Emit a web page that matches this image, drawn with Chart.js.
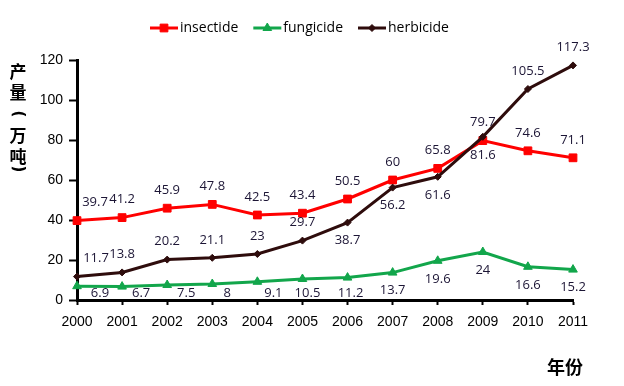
<!DOCTYPE html>
<html>
<head>
<meta charset="utf-8">
<script src="https://cdn.jsdelivr.net/npm/chart.js@4/dist/chart.umd.min.js"></script>
<style>
  html, body { margin: 0; padding: 0; background: #fff; }
  #wrap { width: 624px; height: 386px; }
</style>
</head>
<body>
<div id="wrap"><canvas id="chart" width="624" height="386"></canvas></div>
<script>
// 年份与三类农药产量（万吨）
const years = ["2000", "2001", "2002", "2003", "2004", "2005", "2006", "2007", "2008", "2009", "2010", "2011"];
const insecticide = [39.7, 41.2, 45.9, 47.8, 42.5, 43.4, 50.5, 60, 65.8, 79.7, 74.6, 71.1];
const fungicide = [6.9, 6.7, 7.5, 8, 9.1, 10.5, 11.2, 13.7, 19.6, 24, 16.6, 15.2];
const herbicide = [11.7, 13.8, 20.2, 21.1, 23, 29.7, 38.7, 56.2, 61.6, 81.6, 105.5, 117.3];
const seriesNames = ["insectide", "fungicide", "herbicide"];
const yTicks = [0, 20, 40, 60, 80, 100, 120];

// 数据标签放在点的上方还是下方，以及水平微调
const insecticideLabelPos = ["up", "up", "up", "up", "up", "up", "up", "up", "up", "up", "up", "up"];
const fungicideLabelPos = ["down", "down", "down", "down", "down", "down", "down", "down", "down", "down", "down", "down"];
const herbicideLabelPos = ["up", "up", "up", "up", "up", "up", "down", "down", "down", "down", "up", "up"];
const insecticideLabelDx = [18, 0, 0, 0, 0, 0, 0, 0, 0, 0, 0, 0];
const fungicideLabelDx = [23, 19, 19, 15, 16, 5, 3, 0, 0, 0, 0, 0];
const herbicideLabelDx = [19, 0, 0, 0, 0, 0, 0, 0, 0, 0, 0, 0];

Chart.defaults.font.family = '"Liberation Sans", Arial, sans-serif';
Chart.defaults.font.size = 14;
Chart.defaults.color = "#000";

// 图例：线段 + 标记 + 文字
const legendPlugin = {
  id: "lineLegend",
  afterDraw(chart) {
    const ctx = chart.ctx;
    let x = 150;
    const y = 28;
    ctx.save();
    ctx.font = '14px "Open Sans", sans-serif';
    ctx.textBaseline = "middle";
    ctx.textAlign = "left";
    chart.data.datasets.forEach((ds) => {
      ctx.strokeStyle = ds.borderColor;
      ctx.lineWidth = 3;
      ctx.beginPath();
      ctx.moveTo(x, y);
      ctx.lineTo(x + 28, y);
      ctx.stroke();
      ctx.fillStyle = ds.backgroundColor;
      ctx.lineWidth = 1;
      Chart.helpers.drawPoint(ctx, { pointStyle: ds.pointStyle, radius: ds.pointRadius, rotation: 0, borderWidth: 1 }, x + 14, y);
      ctx.fillStyle = "#000";
      ctx.fillText(ds.label, x + 30, y);
      x += 30 + ctx.measureText(ds.label).width + 15;
    });
    ctx.restore();
  },
};

// 数据标签
const labelPlugin = {
  id: "pointLabels",
  afterDatasetsDraw(chart) {
    const ctx = chart.ctx;
    ctx.save();
    ctx.font = '13px "Open Sans", sans-serif';
    ctx.fillStyle = "#1c1535";
    ctx.textAlign = "center";
    ctx.textBaseline = "middle";
    chart.data.datasets.forEach((ds, i) => {
      const meta = chart.getDatasetMeta(i);
      meta.data.forEach((pt, j) => {
        let y = ds.labelPos[j] === "up" ? pt.y - 18 : pt.y + 18;
        y = Math.min(y, chart.chartArea.bottom - 7);
        ctx.fillText(String(ds.data[j]), pt.x + ds.labelDx[j], y);
      });
    });
    ctx.restore();
  },
};

// 坐标轴标题（竖排中文，括号旋转 90 度）
const axisTitlePlugin = {
  id: "axisTitles",
  afterDraw(chart) {
    const ctx = chart.ctx;
    ctx.save();
    ctx.fillStyle = "#000";
    ctx.textAlign = "center";
    ctx.textBaseline = "middle";
    const chars = ["产", "量", "(", "万", "吨", ")"];
    const ys = [72, 93, 114, 136, 157, 169];
    chars.forEach((c, k) => {
      if (c === "(" || c === ")") {
        ctx.save();
        ctx.translate(18, ys[k]);
        ctx.rotate(Math.PI / 2);
        ctx.font = 'bold 15px "DejaVu Sans", sans-serif';
        ctx.fillText(c, 0, 0);
        ctx.restore();
      } else {
        ctx.font = 'bold 17px "Noto Sans CJK SC", sans-serif';
        ctx.fillText(c, 18, ys[k]);
      }
    });
    ctx.font = 'bold 18px "Noto Sans CJK SC", sans-serif';
    ctx.fillText("年份", 565, 367);
    ctx.restore();
  },
};

function makeDataset(label, values, color, style, radius, pos, dx, order) {
  return {
    label: label,
    data: values,
    borderColor: color,
    backgroundColor: color,
    borderWidth: 3,
    pointStyle: style,
    pointRadius: radius,
    pointBorderWidth: 1,
    pointBackgroundColor: color,
    tension: 0,
    order: order,
    labelPos: pos,
    labelDx: dx,
  };
}

function createChart() {
  const ctx = document.getElementById("chart").getContext("2d");
  new Chart(ctx, {
    type: "line",
    data: {
      labels: years,
      datasets: [
        makeDataset(seriesNames[0], insecticide, "#ff0000", "rect", 5.5, insecticideLabelPos, insecticideLabelDx, 1),
        makeDataset(seriesNames[1], fungicide, "#12a64b", "triangle", 5, fungicideLabelPos, fungicideLabelDx, 2),
        makeDataset(seriesNames[2], herbicide, "#2e0c0c", "rectRot", 3.5, herbicideLabelPos, herbicideLabelDx, 0),
      ],
    },
    options: {
      responsive: false,
      animation: false,
      layout: { padding: { top: 60, right: 51, bottom: 0, left: 0 } },
      plugins: {
        legend: { display: false },
        tooltip: { enabled: false },
      },
      scales: {
        x: {
          offset: false,
          grid: { drawOnChartArea: false, drawTicks: true, tickLength: 5, tickColor: "#000", tickWidth: 2 },
          border: { color: "#000", width: 3 },
          ticks: { padding: 9, color: "#000", maxRotation: 0, autoSkip: false },
          afterFit(scale) { scale.height = 86; },
        },
        y: {
          min: yTicks[0],
          max: yTicks[yTicks.length - 1],
          afterBuildTicks(scale) { scale.ticks = yTicks.map((v) => ({ value: v })); },
          grid: { drawOnChartArea: false, drawTicks: true, tickLength: 8, tickColor: "#000", tickWidth: 2 },
          border: { color: "#000", width: 3 },
          ticks: { padding: 6, color: "#000" },
          afterFit(scale) { scale.width = 77; },
        },
      },
    },
    plugins: [legendPlugin, labelPlugin, axisTitlePlugin],
  });
}

createChart();
</script>
</body>
</html>
